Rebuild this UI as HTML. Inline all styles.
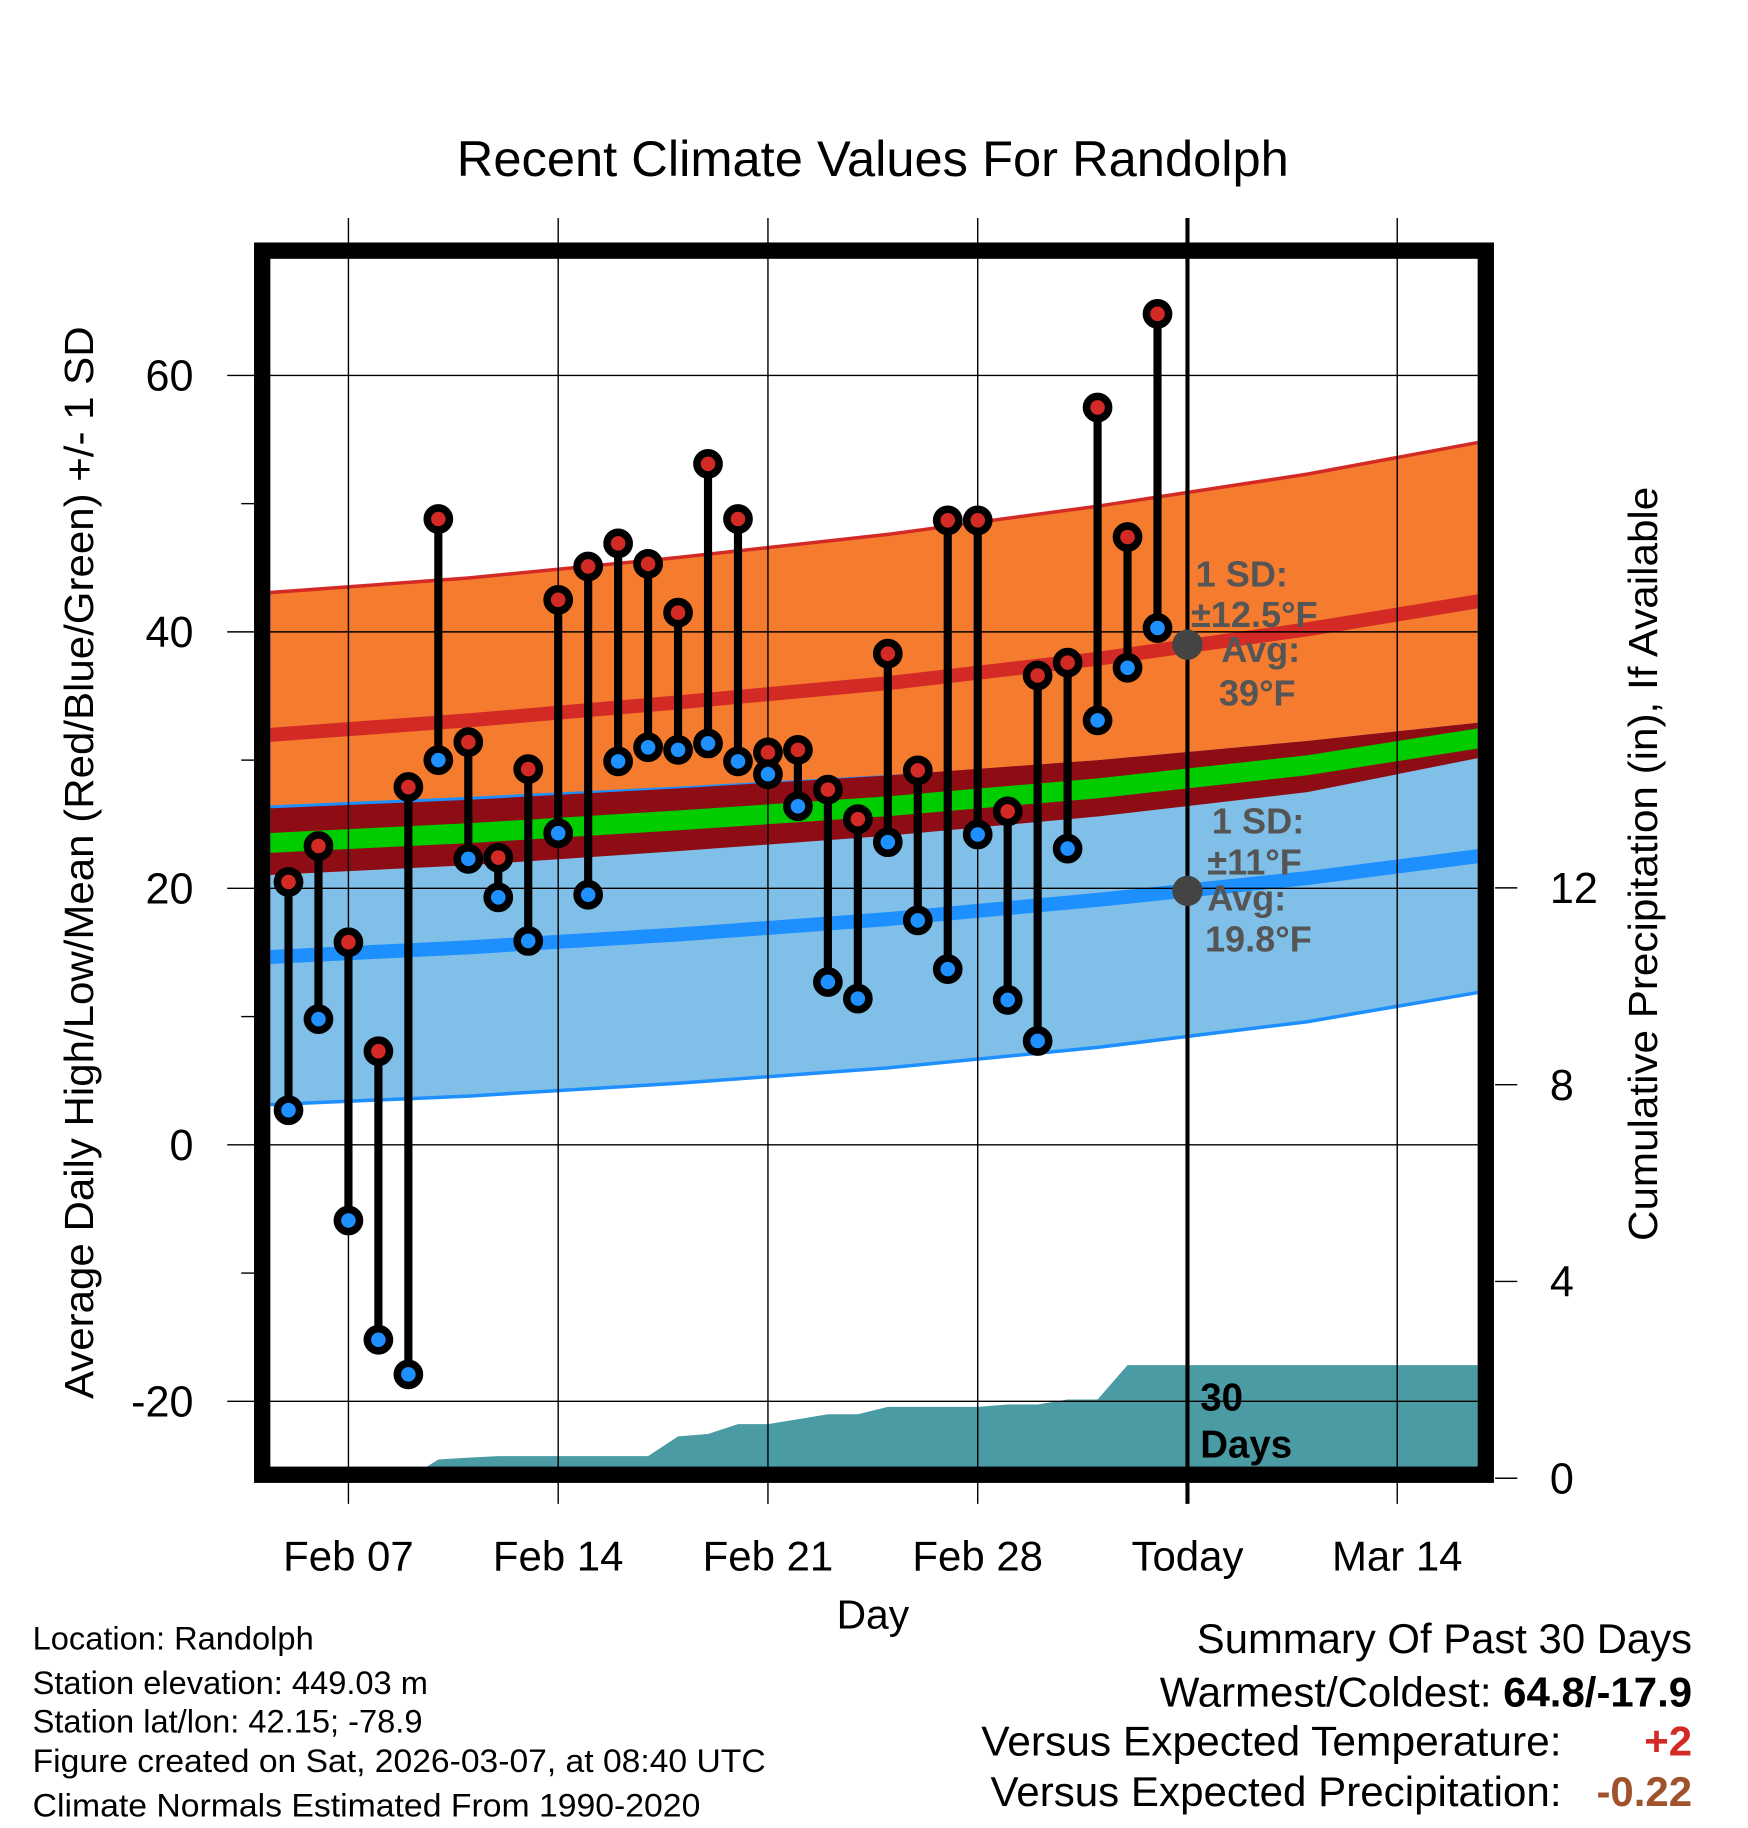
<!DOCTYPE html>
<html><head><meta charset="utf-8"><style>body{margin:0;background:#fff}svg{display:block}text{font-family:"Liberation Sans",sans-serif}</style></head>
<body>
<svg id="c" xmlns="http://www.w3.org/2000/svg" width="1748" height="1828" viewBox="0 0 1500 1568" preserveAspectRatio="none">
<defs><clipPath id="pc"><rect x="232" y="222" width="1036" height="1038"/></clipPath></defs>
<text x="749" y="151" font-size="43" text-anchor="middle" textLength="714" lengthAdjust="spacingAndGlyphs">Recent Climate Values For Randolph</text>
<g id="bands" clip-path="url(#pc)"></g>
<g id="grid"></g>
<g id="marks"></g>
<g id="frame"></g>
<g id="labels"></g>
<text transform="translate(80,740) rotate(-90)" font-size="35" text-anchor="middle" textLength="920" lengthAdjust="spacingAndGlyphs">Average Daily High/Low/Mean (Red/Blue/Green) +/- 1 SD</text>
<text transform="translate(1422,741) rotate(-90)" font-size="35" text-anchor="middle" textLength="647" lengthAdjust="spacingAndGlyphs">Cumulative Precipitation (in), If Available</text>
<text x="749" y="1397" font-size="35" text-anchor="middle">Day</text>
<g font-size="28">
<text x="28" y="1415">Location: Randolph</text>
<text x="28" y="1453">Station elevation: 449.03 m</text>
<text x="28" y="1486">Station lat/lon: 42.15; -78.9</text>
<text x="28" y="1520" textLength="629" lengthAdjust="spacingAndGlyphs">Figure created on Sat, 2026-03-07, at 08:40 UTC</text>
<text x="28" y="1558" textLength="573" lengthAdjust="spacingAndGlyphs">Climate Normals Estimated From 1990-2020</text>
</g>
<g font-size="36" text-anchor="end">
<text x="1452" y="1418" textLength="425" lengthAdjust="spacingAndGlyphs">Summary Of Past 30 Days</text>
<text x="1452" y="1464">Warmest/Coldest: <tspan font-weight="bold">64.8/-17.9</tspan></text>
<text x="1340" y="1506" textLength="498" lengthAdjust="spacingAndGlyphs">Versus Expected Temperature:</text>
<text x="1452" y="1506" fill="#d42a25" font-weight="bold">+2</text>
<text x="1340" y="1549" textLength="490" lengthAdjust="spacingAndGlyphs">Versus Expected Precipitation:</text>
<text x="1452" y="1549" fill="#a0522d" font-weight="bold">-0.22</text>
</g>
<script>
const hiHigh=[20.5,23.3,15.8,7.3,27.9,48.8,31.4,22.4,29.3,42.5,45.1,46.9,45.3,41.5,53.1,48.8,30.6,30.8,27.7,25.4,38.3,29.2,48.7,48.7,26.0,36.6,37.6,57.5,47.4,64.8];
const loLow=[2.7,9.8,-5.9,-15.2,-17.9,30.0,22.3,19.3,15.9,24.3,19.5,29.9,31.0,30.8,31.3,29.9,28.9,26.4,12.7,11.4,23.6,17.5,13.7,24.2,11.3,8.1,23.1,33.1,37.2,40.3];
const precip=[0,0,0,0,0,0.38,0.42,0.45,0.45,0.45,0.45,0.45,0.45,0.85,0.9,1.1,1.1,1.2,1.3,1.3,1.45,1.45,1.45,1.45,1.5,1.5,1.6,1.6,2.3,2.3];
const normDays=[-3,4,11,18,25,32,38];
const hiUpper=[43.0,44.2,45.8,47.6,49.8,52.3,54.9];
const hiAvg=[31.9,33.1,34.5,36.0,37.9,40.2,42.5];
const hiLower=[26.2,26.9,27.7,28.7,30.0,31.5,33.0];
const loUpper=[26.3,27.0,27.8,28.7,29.7,30.8,32.0];
const loAvg=[14.6,15.4,16.4,17.6,19.1,20.8,22.6];
const loLower=[3.1,3.8,4.8,6.0,7.6,9.6,12.0];
const meanUp=[26.2,26.9,27.8,28.8,30.0,31.5,33.0];
const meanLo=[21.0,21.8,22.9,24.1,25.6,27.5,30.3];
const meanAvg=[23.5,24.3,25.3,26.4,27.8,29.6,31.8];
const yTicks=[60,40,20,0,-20];
const pTicks=[0,4,8,12];
const xTickDays=[0,7,14,21,28,35];
const xTickLabels=["Feb 07","Feb 14","Feb 21","Feb 28","Today","Mar 14"];
const firstDay=-2;
const NS="http://www.w3.org/2000/svg";
const X=d=>299+d*25.714;
const Y=v=>982-11*v;
const P=p=>1268-42.2*p;
function mk(parent,tag,attrs){const e=document.createElementNS(NS,tag);for(const k in attrs)e.setAttribute(k,attrs[k]);document.getElementById(parent).appendChild(e);return e;}
function pts(arr){return normDays.map((d,i)=>X(d)+','+Y(arr[i]));}
function band(up,lo,fill,name){const p=pts(up).concat(pts(lo).reverse()).join(' ');const e=mk('bands','polygon',{points:p,fill:fill});

}
function line(arr,col,w,name){const e=mk('bands','polyline',{points:pts(arr).join(' '),fill:'none',stroke:col,'stroke-width':w});

}
band(hiUpper,hiLower,'#f57b2f','high-sd-band');
line(hiUpper,'#d42a25',3,'high-upper-line');
band(loUpper,loLower,'#80c0e8','low-sd-band');
line(loUpper,'#1e8fff',3,'low-upper-line');
line(loLower,'#1e8fff',3,'low-lower-line');
band(meanUp,meanLo,'#8e0c14','mean-sd-band');
line(meanAvg,'#00cc00',17,'mean-line');
line(hiAvg,'#d42a25',12,'high-avg-line');
line(loAvg,'#1e8fff',12,'low-avg-line');
let pp=[X(-2.7)+','+P(0)];precip.forEach((v,i)=>pp.push(X(firstDay+i)+','+P(v)));pp.push(X(38)+','+P(precip[precip.length-1]));pp.push(X(38)+','+P(0));
const pe=mk('bands','polygon',{points:pp.join(' '),fill:'#4a9ba4'});


xTickDays.forEach((d,i)=>{const today=xTickLabels[i]==='Today';const g=mk('grid','line',{x1:X(d),x2:X(d),y1:187,y2:1290,stroke:'#000','stroke-width':today?3.5:1.2});


const t=mk('labels','text',{x:X(d),y:1347,'font-size':36,'text-anchor':'middle'});t.textContent=xTickLabels[i];

});
yTicks.forEach(v=>{const g=mk('grid','line',{x1:195,x2:1268,y1:Y(v),y2:Y(v),stroke:'#000','stroke-width':1.2});


const t=mk('labels','text',{x:166,y:Y(v)+13,'font-size':37,'text-anchor':'end'});t.textContent=v;

});
[50,30,10,-10].forEach(v=>{mk('grid','line',{x1:207,x2:218,y1:Y(v),y2:Y(v),stroke:'#000','stroke-width':1.2});});
pTicks.forEach(v=>{mk('grid','line',{x1:1283,x2:1302,y1:P(v),y2:P(v),stroke:'#000','stroke-width':1.2});
const t=mk('labels','text',{x:1330,y:P(v)+13,'font-size':37});t.textContent=v;

});
hiHigh.forEach((h,i)=>{const x=X(firstDay+i),l=loLow[i];
const s=mk('marks','line',{x1:x,x2:x,y1:Y(h),y2:Y(l),stroke:'#000','stroke-width':7});


const a=mk('marks','circle',{cx:x,cy:Y(h),r:9.5,fill:'#d42a25',stroke:'#000','stroke-width':6.5});


const b=mk('marks','circle',{cx:x,cy:Y(l),r:9.5,fill:'#1e90ff',stroke:'#000','stroke-width':6.5});

});
const f=mk('frame','rect',{x:225,y:215,width:1050,height:1050,fill:'none',stroke:'#000','stroke-width':14});


const d1=mk('marks','circle',{cx:X(28),cy:Y(39),r:13,fill:'#444'});


const d2=mk('marks','circle',{cx:X(28),cy:Y(19.8),r:13,fill:'#444'});


</script>
<g fill="#555" font-size="31" font-weight="bold">
<text x="1026" y="503">1 SD:</text><text x="1022" y="538">±12.5°F</text><text x="1048" y="568">Avg:</text><text x="1046" y="605">39°F</text>
</g>
<g fill="#555" font-size="31" font-weight="bold">
<text x="1040" y="715">1 SD:</text><text x="1036" y="750">±11°F</text><text x="1036" y="781">Avg:</text><text x="1034" y="816">19.8°F</text>
</g>
<g font-size="33" font-weight="bold">
<text x="1030" y="1210">30</text><text x="1030" y="1250">Days</text>
</g>
</svg>
</body></html>
